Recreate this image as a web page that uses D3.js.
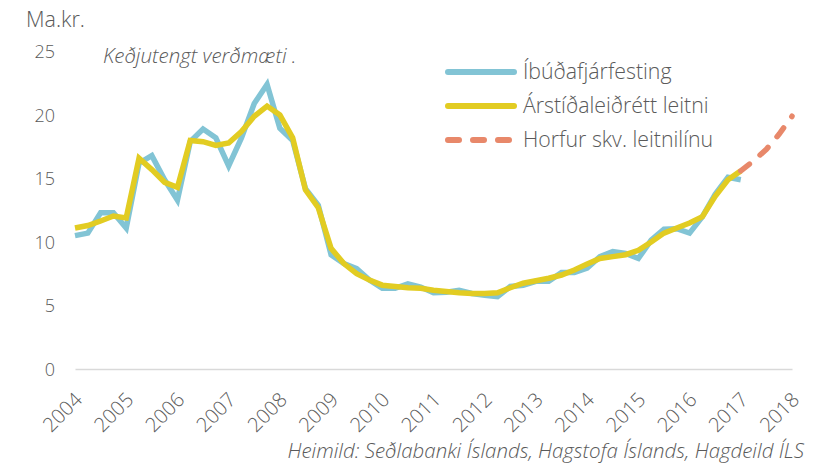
<!DOCTYPE html>
<html>
<head>
<meta charset="utf-8">
<script src="https://cdn.jsdelivr.net/npm/d3@7"></script>
<style>
  html, body { margin: 0; padding: 0; background: #fff; }
  svg { display: block; }
  text { font-family: "Open Sans", Lato, sans-serif; fill: #5a5a5a; }
</style>
</head>
<body>
<div id="chart"></div>
<script>
// ---- data (quarterly, starting 2004Q1) ----
const yearLabels = ["2004","2005","2006","2007","2008","2009","2010","2011","2012","2013","2014","2015","2016","2017","2018"];
const yTicks = [0, 5, 10, 15, 20, 25];
const seriesNames = ["Íbúðafjárfesting", "Árstíðaleiðrétt leitni", "Horfur skv. leitnilínu"];
const investment = [
  10.5, 10.7, 12.3, 12.3, 11.1, 16.2, 16.8, 14.9, 13.3, 17.9,
  18.9, 18.2, 16.0, 18.2, 20.9, 22.4, 18.95, 18.0, 14.2, 12.9,
  9.0, 8.3, 7.9, 7.0, 6.35, 6.35, 6.7, 6.45, 6.0, 6.05,
  6.2, 5.95, 5.8, 5.7, 6.5, 6.6, 6.9, 6.9, 7.6, 7.6,
  7.95, 8.85, 9.25, 9.1, 8.7, 10.15, 11.0, 11.05, 10.7, 12.0,
  13.75, 15.1, 14.9
];
const trend = [
  11.1, 11.3, 11.65, 12.05, 11.9, 16.6, 15.7, 14.7, 14.3, 18.0,
  17.9, 17.6, 17.8, 18.7, 19.9, 20.7, 20.0, 18.2, 14.1, 12.7,
  9.5, 8.3, 7.5, 7.0, 6.6, 6.5, 6.4, 6.35, 6.2, 6.1,
  6.0, 5.95, 5.95, 6.0, 6.4, 6.75, 6.95, 7.15, 7.4, 7.8,
  8.27, 8.7, 8.85, 9.0, 9.35, 10.0, 10.7, 11.1, 11.5, 12.0,
  13.6, 14.9, 15.6
];
const forecastStart = 52;
const forecast = [15.6, 16.4, 17.3, 18.5, 19.9];

const colors = ["#82c4d5", "#e2cc22", "#e8886a"];

// ---- chart ----
const W = 831, H = 463;
const svg = d3.select("#chart").append("svg").attr("width", W).attr("height", H);

const nQ = 56;
const x = d3.scaleLinear().domain([0, nQ]).range([75, 792]);
const y = d3.scaleLinear().domain([0, 25]).range([369, 51.5]);

// y axis labels
const yAxis = d3.axisLeft(y).tickValues(yTicks).tickSize(0).tickPadding(0).tickFormat(d3.format("d"));
const gy = svg.append("g").attr("transform", "translate(55,0)").call(yAxis);
gy.select(".domain").remove();
gy.selectAll("text").attr("font-size", 18).attr("font-weight", 300)
  .attr("font-family", "Lato, sans-serif").attr("fill", "#5a5a5a").attr("dy", "0.35em");

// x axis
const xTickVals = yearLabels.map((d, i) => i * 4);
const xAxis = d3.axisBottom(x).tickValues(xTickVals).tickSize(0).tickPadding(0)
  .tickFormat((d) => yearLabels[d / 4]);
const gx = svg.append("g").attr("transform", `translate(0,${y(0)})`).call(xAxis);
gx.select(".domain").attr("stroke", "#d9d9d9").attr("stroke-width", 1.5);
gx.selectAll("text")
  .attr("font-size", 20).attr("font-weight", 300).attr("font-family", "Lato, sans-serif")
  .attr("fill", "#5a5a5a")
  .attr("text-anchor", "end")
  .attr("dy", null).attr("y", 0)
  .attr("transform", "translate(8,32) rotate(-45)");

// lines
const line = d3.line().x((d) => x(d[0])).y((d) => y(d[1]));
const invPts = investment.map((v, i) => [i, v]);
const trPts = trend.map((v, i) => [i, v]);
const fcPts = forecast.map((v, i) => [forecastStart + i, v]);

svg.append("path").datum(invPts).attr("d", line)
  .attr("fill", "none").attr("stroke", colors[0]).attr("stroke-width", 5.5);
svg.append("path").datum(trPts).attr("d", line)
  .attr("fill", "none").attr("stroke", colors[1]).attr("stroke-width", 5.5);
svg.append("path").datum(fcPts).attr("d", line)
  .attr("fill", "none").attr("stroke", colors[2]).attr("stroke-width", 5.5)
  .attr("stroke-linecap", "round").attr("stroke-dasharray", "11,14");

// titles
svg.append("text").attr("x", 26).attr("y", 27).attr("font-size", 21.5).attr("font-weight", 300)
  .text("Ma.kr.");
svg.append("text").attr("x", 103).attr("y", 63).attr("font-size", 20.5).attr("font-weight", 300)
  .attr("font-style", "italic").text("Keðjutengt verðmæti .");
svg.append("text").attr("x", 804).attr("y", 458).attr("font-size", 20.5).attr("font-weight", 300)
  .attr("font-style", "italic").attr("text-anchor", "end")
  .text("Heimild: Seðlabanki Íslands, Hagstofa Íslands, Hagdeild ÍLS");

// legend
const legY = [72, 106, 140];
const leg = svg.append("g");
seriesNames.forEach((name, i) => {
  const ln = leg.append("line").attr("x1", 448).attr("x2", 514).attr("y1", legY[i]).attr("y2", legY[i])
    .attr("stroke", colors[i]).attr("stroke-width", 6).attr("stroke-linecap", "round");
  if (i === 2) ln.attr("stroke-dasharray", "11,14");
  leg.append("text").attr("x", 523).attr("y", legY[i]).attr("dy", "0.35em")
    .attr("font-size", 21.3).attr("font-weight", 300).text(name);
});
</script>
</body>
</html>
